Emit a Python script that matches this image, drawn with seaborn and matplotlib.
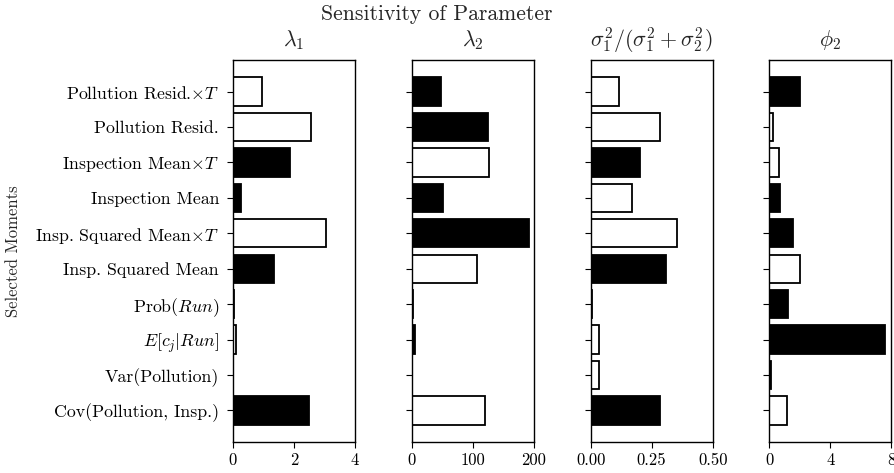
import numpy as np
import pandas as pd
import matplotlib
matplotlib.use("Agg")
import matplotlib.pyplot as plt
import seaborn as sns

# Moments used in estimation (top to bottom)
moments = [
    r"Pollution Resid.$\times T$",
    "Pollution Resid.",
    r"Inspection Mean$\times T$",
    "Inspection Mean",
    r"Insp. Squared Mean$\times T$",
    "Insp. Squared Mean",
    r"Prob($Run$)",
    r"$E[c_j|Run]$",
    "Var(Pollution)",
    "Cov(Pollution, Insp.)",
]

# Signed sensitivities: negative values are drawn as filled bars
sens_lambda1 = [0.95, 2.56, -1.86, -0.27, 3.06, -1.35, -0.03, 0.11, -0.01, -2.50]
sens_lambda2 = [-48, -125.5, 127, -51.5, -193, 108, 2, -6.5, -0.8, 121]
sens_sigma = [0.117, 0.284, -0.203, 0.169, 0.355, -0.310, -0.007, 0.034, 0.033, -0.285]
sens_phi2 = [-2.03, 0.26, 0.61, -0.72, -1.57, 1.99, -1.20, -7.58, -0.09, 1.18]

titles = [r"$\lambda_1$", r"$\lambda_2$",
          r"$\sigma_1^2/(\sigma_1^2+\sigma_2^2)$", r"$\phi_2$"]
xlims = [(0, 4), (0, 200), (0, 0.5), (0, 8)]
xticks = [[0, 2, 4], [0, 100, 200], [0.0, 0.25, 0.5], [0, 4, 8]]
xticklabels = [["0", "2", "4"], ["0", "100", "200"],
               ["0.00", "0.25", "0.50"], ["0", "4", "8"]]

sns.set_style("ticks")
plt.rcParams.update({
    "font.family": "serif",
    "font.serif": ["cmr10"],
    "mathtext.fontset": "cm",
    "axes.formatter.use_mathtext": True,
    "font.size": 12,
    "axes.linewidth": 1.0,
    "xtick.major.size": 4,
    "ytick.major.size": 4,
    "xtick.major.pad": 4,
    "ytick.major.pad": 6,
    "xtick.labelsize": 12,
    "ytick.labelsize": 12.8,
    "xtick.color": "black",
    "ytick.color": "black",
    "axes.edgecolor": "black",
})

fig = plt.figure(figsize=(8.94, 4.73), dpi=100)
lefts = [0.2606, 0.4603, 0.6607, 0.8605]
width, bottom, height = 0.1365, 0.0655, 0.8076

series = [sens_lambda1, sens_lambda2, sens_sigma, sens_phi2]
for i, vals in enumerate(series):
    ax = fig.add_axes([lefts[i], bottom, width, height])
    df = pd.DataFrame({
        "moment": moments,
        "size": np.abs(vals),
        "sign": ["neg" if v < 0 else "pos" for v in vals],
    })
    sns.barplot(data=df, x="size", y="moment", hue="sign", orient="h",
                palette={"neg": "black", "pos": "white"}, dodge=False,
                edgecolor="black", linewidth=1.3, width=0.8,
                legend=False, ax=ax, order=moments)
    ax.set_ylim(len(moments) - 1 + 0.89, -0.89)
    ax.set_xlim(*xlims[i])
    ax.set_xticks(xticks[i])
    ax.set_xticklabels(xticklabels[i])
    ax.set_xlabel("")
    ax.set_title(titles[i], fontsize=15.8, pad=10)
    for s in ax.spines.values():
        s.set_visible(True)
        s.set_color("black")
    if i == 0:
        ax.set_ylabel("Selected Moments", fontsize=12)
        ax.yaxis.set_label_coords(-1.74, 0.5)
    else:
        ax.set_ylabel("")
        ax.set_yticklabels([])

fig.suptitle("Sensitivity of Parameter", x=0.489, y=0.99, fontsize=15.6)
fig.savefig("out.png", dpi=100)
